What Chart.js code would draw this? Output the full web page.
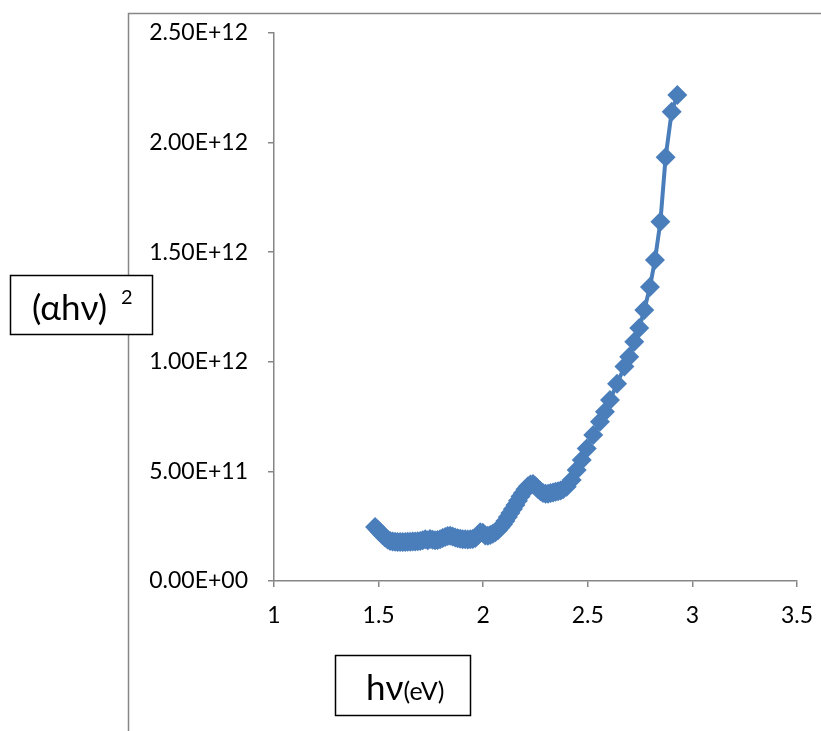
<!DOCTYPE html>
<html>
<head>
<meta charset="utf-8">
<script src="https://cdn.jsdelivr.net/npm/chart.js@4.4.0/dist/chart.umd.min.js"></script>
<style>
  html, body { margin: 0; padding: 0; background: #fff; }
  #wrap { width: 821px; height: 731px; }
</style>
</head>
<body>
<div id="wrap"><canvas id="tauc" width="821" height="731"></canvas></div>
<script>
// photon energy hv (eV)
const hv = [
  1.483, 1.495, 1.507, 1.519, 1.531, 1.543, 1.555, 1.567, 1.579, 1.591,
  1.603, 1.615, 1.627, 1.639, 1.651, 1.663, 1.675, 1.687, 1.699, 1.711,
  1.723, 1.735, 1.746, 1.758, 1.770, 1.782, 1.794, 1.806, 1.818, 1.830,
  1.842, 1.854, 1.866, 1.878, 1.890, 1.902, 1.914, 1.926, 1.938, 1.950,
  1.962, 1.974, 1.986, 1.998, 2.010, 2.022, 2.034, 2.046, 2.058, 2.070,
  2.082, 2.094, 2.106, 2.118, 2.130, 2.142, 2.154, 2.166, 2.178, 2.190,
  2.202, 2.214, 2.226, 2.238, 2.250, 2.262, 2.274, 2.286, 2.298, 2.310,
  2.322, 2.334, 2.346, 2.358, 2.370, 2.382, 2.399, 2.423, 2.447, 2.471,
  2.495, 2.526, 2.558, 2.582, 2.606, 2.640, 2.675, 2.698, 2.722, 2.746,
  2.770, 2.797, 2.821, 2.847, 2.872, 2.901, 2.928
];
// (alpha*hv)^2 in units of 1e12
const ahv2 = [
  0.246, 0.235, 0.222, 0.210, 0.198, 0.189, 0.183, 0.180, 0.179, 0.178,
  0.178, 0.178, 0.178, 0.179, 0.179, 0.180, 0.180, 0.181, 0.183, 0.186,
  0.190, 0.186, 0.192, 0.188, 0.186, 0.187, 0.191, 0.196, 0.201, 0.205,
  0.206, 0.203, 0.198, 0.195, 0.193, 0.191, 0.190, 0.189, 0.190, 0.192,
  0.196, 0.208, 0.222, 0.220, 0.208, 0.207, 0.210, 0.215, 0.222, 0.232,
  0.244, 0.258, 0.274, 0.292, 0.310, 0.328, 0.347, 0.366, 0.385, 0.402,
  0.418, 0.432, 0.440, 0.442, 0.432, 0.420, 0.410, 0.402, 0.398, 0.398,
  0.401, 0.404, 0.407, 0.410, 0.413, 0.418, 0.430, 0.461, 0.506, 0.552,
  0.605, 0.666, 0.727, 0.772, 0.826, 0.900, 0.978, 1.023, 1.092, 1.154,
  1.236, 1.341, 1.464, 1.639, 1.933, 2.141, 2.217
];
const xTicks = [1, 1.5, 2, 2.5, 3, 3.5];
const yTicks = [0, 0.5e12, 1.0e12, 1.5e12, 2.0e12, 2.5e12];

const blue = '#4A7EBB';
const axisGrey = '#868686';
const tickFont = { family: "Lato, 'Noto Sans', sans-serif", size: 23 };

function sci(v) {
  const parts = v.toExponential(2).split('e');
  let e = parseInt(parts[1], 10);
  const sign = e < 0 ? '-' : '+';
  e = Math.abs(e);
  return parts[0] + 'E' + sign + (e < 10 ? '0' + e : e);
}

const points = hv.map((x, i) => ({ x: x, y: ahv2[i] * 1e12 }));

const frame = {
  id: 'frame',
  beforeDraw(chart) {
    const ctx = chart.ctx;
    ctx.save();
    ctx.fillStyle = '#fff';
    ctx.fillRect(0, 0, chart.width, chart.height);
    ctx.strokeStyle = axisGrey;
    ctx.lineWidth = 1.5;
    ctx.beginPath();
    ctx.moveTo(128.5, chart.height);
    ctx.lineTo(128.5, 13.5);
    ctx.lineTo(chart.width, 13.5);
    ctx.stroke();
    ctx.restore();
  },
  afterDraw(chart) {
    const ctx = chart.ctx;
    ctx.save();
    // y title box
    ctx.fillStyle = '#fff';
    ctx.fillRect(10, 275, 143, 60);
    ctx.strokeStyle = '#000';
    ctx.lineWidth = 1.5;
    ctx.strokeRect(10.5, 275.5, 142, 59);
    ctx.fillStyle = '#000';
    ctx.textBaseline = 'alphabetic';
    ctx.textAlign = 'left';
    ctx.font = "35px Lato, 'Noto Sans', sans-serif";
    ctx.fillText('(\u03b1h\u03bd)', 32, 320);
    ctx.font = "20px Lato, 'Noto Sans', sans-serif";
    ctx.fillText('2', 121, 304);
    // x title box
    ctx.fillStyle = '#fff';
    ctx.fillRect(335, 655, 136, 61);
    ctx.strokeRect(335.5, 655.5, 135, 60);
    ctx.fillStyle = '#000';
    ctx.font = "35px Lato, 'Noto Sans', sans-serif";
    ctx.fillText('h\u03bd', 366, 700);
    const w = ctx.measureText('h\u03bd').width;
    ctx.font = "25px Lato, 'Noto Sans', sans-serif";
    ctx.fillText('(eV)', 366 + w, 700);
    ctx.restore();
  }
};

new Chart(document.getElementById('tauc'), {
  type: 'scatter',
  data: {
    datasets: [{
      data: points,
      showLine: true,
      borderColor: blue,
      borderWidth: 4,
      backgroundColor: blue,
      pointStyle: 'rectRot',
      pointRadius: 10,
      pointBorderWidth: 0,
      tension: 0
    }]
  },
  options: {
    responsive: false,
    animation: false,
    events: [],
    layout: { padding: { left: 128, top: 33, right: 24, bottom: 0 } },
    plugins: { legend: { display: false }, tooltip: { enabled: false } },
    scales: {
      x: {
        type: 'linear',
        min: 1,
        max: 3.5,
        afterBuildTicks: s => { s.ticks = xTicks.map(v => ({ value: v })); },
        afterFit: s => { s.height = 150; s.paddingRight = 0; s.paddingLeft = 0; },
        ticks: { font: tickFont, color: '#000', padding: 15, callback: v => String(v) },
        grid: { drawOnChartArea: false, drawTicks: true, tickLength: 6, color: axisGrey, lineWidth: 1.5 },
        border: { color: axisGrey, width: 1.5 }
      },
      y: {
        type: 'linear',
        min: 0,
        max: 2.5e12,
        afterBuildTicks: s => { s.ticks = yTicks.map(v => ({ value: v })); },
        afterFit: s => { s.width = 146; s.paddingTop = 0; s.paddingBottom = 0; },
        ticks: { font: tickFont, color: '#000', padding: 20, callback: v => sci(v) },
        grid: { drawOnChartArea: false, drawTicks: true, tickLength: 6, color: axisGrey, lineWidth: 1.5 },
        border: { color: axisGrey, width: 1.5 }
      }
    }
  },
  plugins: [frame]
});
</script>
</body>
</html>
